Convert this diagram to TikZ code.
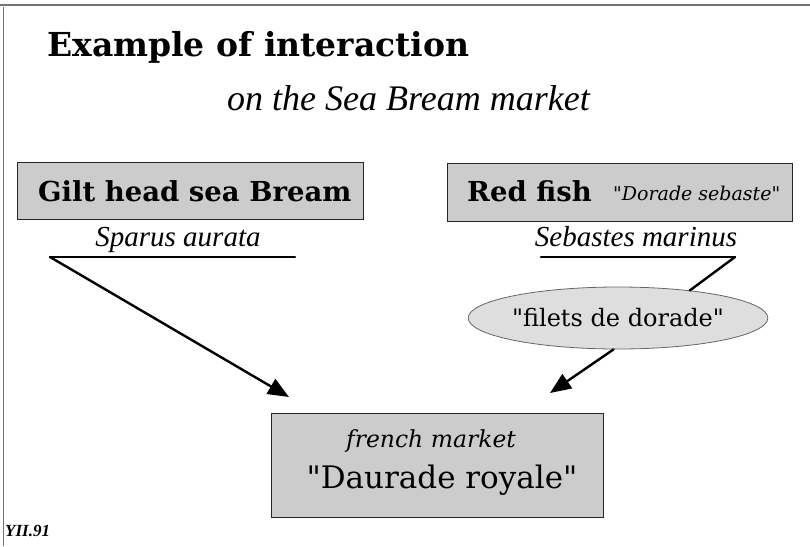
\documentclass[tikz,border=0pt]{standalone}
\usepackage{fontspec}
\setmainfont{Liberation Serif}
\newfontfamily\slabfont{DejaVu Serif}
\usetikzlibrary{arrows.meta,shapes.geometric}
\definecolor{boxgray}{gray}{0.80}
\definecolor{ovalgray}{gray}{0.87}
\definecolor{framegray}{gray}{0.45}
\newcommand{\dq}{\textquotedbl}
\begin{document}
\begin{tikzpicture}[x=1pt,y=-1pt,
  fishbox/.style={draw=black!85, line width=1pt, fill=boxgray, inner sep=0pt},
  latin/.style={font=\fontsize{29}{32}\selectfont\itshape},
  heavy/.style={font=\slabfont\bfseries\fontsize{27.5}{30}\selectfont},
  link/.style={line width=2.4pt, line cap=round},
  flow/.style={link, -{Triangle[length=21pt,width=17pt]}}]
  \useasboundingbox (0,0) rectangle (810,546);

  % page frame
  \draw[framegray, line width=1.6pt] (0,5) -- (810,5);
  \draw[framegray, line width=1pt] (3,7) -- (3,546);

  % headings
  \node[anchor=base west, inner sep=0pt, font=\slabfont\bfseries\fontsize{33}{36}\selectfont] (title) at (47,56) {Example of interaction};
  \node[anchor=base west, inner sep=0pt, font=\fontsize{36}{40}\selectfont\itshape] (subtitle) at (227,110) {on the Sea Bream market};

  % the two species
  \node[fishbox, minimum width=346pt, minimum height=57pt] (gilt) at (190,191) {};
  \node[heavy, anchor=base west, inner sep=0pt] (giltname) at (38,201) {Gilt head sea Bream};

  \node[fishbox, minimum width=345pt, minimum height=58pt] (redfish) at (619.5,192) {};
  \node[heavy, anchor=base west, inner sep=0pt] (redname) at (467,201) {Red fish};
  \node[anchor=base west, inner sep=0pt, font=\slabfont\fontsize{19}{21}\selectfont\itshape] (redlocal) at (613,200) {\dq Dorade sebaste\dq};

  \node[latin, anchor=base] (sparus) at (178,246) {Sparus aurata};
  \node[latin, anchor=base] (sebastes) at (636,246) {Sebastes marinus};

  \coordinate (gl) at (50,257);
  \coordinate (gr) at (295,257);
  \coordinate (rl) at (541,257);
  \coordinate (rr) at (735,257);
  \draw[link] (gl) -- (gr);
  \draw[link] (rl) -- (rr);

  % trade name of the red fish
  \node[ellipse, draw=black!60, line width=0.8pt, fill=ovalgray, minimum width=240pt, minimum height=62pt, inner sep=0pt,
        font=\slabfont\fontsize{24}{28}\selectfont] (filets) at (618,318) {\dq filets de dorade\dq};

  % market
  \node[fishbox, minimum width=332pt, minimum height=104pt] (market) at (437,465) {};
  \node[anchor=base, inner sep=0pt, font=\slabfont\fontsize{23.5}{26}\selectfont\itshape] (marketlabel) at (431,447) {french market};
  \node[anchor=base, inner sep=0pt, font=\slabfont\fontsize{31}{34}\selectfont] (marketname) at (442,488) {\dq Daurade royale\dq};

  \coordinate (tipl) at (289,397);
  \coordinate (tipr) at (550,393);
  \draw[flow] (gl) -- (tipl);
  \draw[link] (rr) -- (filets.21);
  \draw[flow] (filets.262) -- (tipr);

  \node[anchor=base west, inner sep=0pt, font=\fontsize{17}{19}\selectfont\bfseries\itshape] (ref) at (5,536) {YII.91};
\end{tikzpicture}
\end{document}
